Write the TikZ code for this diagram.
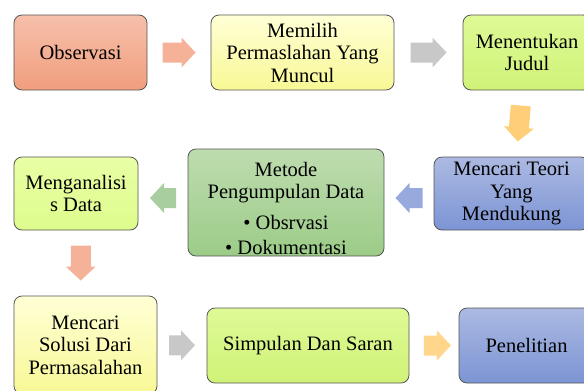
\documentclass[tikz,border=0pt]{standalone}
\usepackage{fontspec}
\setmainfont{Liberation Serif}
\usetikzlibrary{calc}
\definecolor{bordc}{RGB}{85,85,85}
\definecolor{salT}{RGB}{246,192,170}
\definecolor{salB}{RGB}{241,158,126}
\definecolor{yelT}{RGB}{255,255,214}
\definecolor{yelB}{RGB}{248,248,150}
\definecolor{grnT}{RGB}{222,250,150}
\definecolor{grnB}{RGB}{208,242,120}
\definecolor{bluT}{RGB}{172,186,226}
\definecolor{bluB}{RGB}{124,148,212}
\definecolor{dgrT}{RGB}{190,220,175}
\definecolor{dgrB}{RGB}{156,204,136}
\definecolor{lgrT}{RGB}{232,255,165}
\definecolor{lgrB}{RGB}{222,252,140}
\definecolor{aSal}{RGB}{245,178,152}
\definecolor{aGray}{RGB}{200,200,200}
\definecolor{aYel}{RGB}{255,206,120}
\definecolor{aBlu}{RGB}{150,170,222}
\definecolor{aGrn}{RGB}{168,206,160}
\definecolor{aOra}{RGB}{255,214,140}
\tikzset{
  box/.style={draw=bordc, line width=0.8bp, rounded corners=8bp, align=center,
    inner sep=2bp, font=\fontsize{20.5bp}{22.5bp}\selectfont},
  lbl/.style={font=\fontsize{20.5bp}{22.5bp}\selectfont, inner sep=0pt, anchor=base},
  pics/barrow/.style={code={
    \fill[pic actions] (-#1/2,-10) -- (#1/2-14,-10) -- (#1/2-14,-15) -- (#1/2,0)
      -- (#1/2-14,15) -- (#1/2-14,10) -- (-#1/2,10) -- cycle;}}
}
\begin{document}
\begin{tikzpicture}[x=1bp,y=-1bp]
\useasboundingbox (0,0) rectangle (584,390);
\clip (0,0) rectangle (584,390);
% boxes
\node[box, top color=salT, bottom color=salB, minimum width=133bp, minimum height=75bp] (A) at (80.5,52.5) {Observasi};
\node[box, top color=yelT, bottom color=yelB, minimum width=183bp, minimum height=75bp] (B) at (302.5,52.5) {Memilih\\Permaslahan Yang\\Muncul};
\node[box, top color=grnT, bottom color=grnB, minimum width=128bp, minimum height=75bp] (C) at (527,52.5) {Menentukan\\Judul};
\node[box, top color=bluT, bottom color=bluB, minimum width=155bp, minimum height=73bp] (D) at (511.5,193.5) {Mencari Teori\\Yang\\Mendukung};
\node[box, top color=dgrT, bottom color=dgrB, minimum width=196bp, minimum height=107bp] (E) at (286,202.5) {};
\node[lbl] (E1) at ($(E.north)+(0,28)$) {Metode};
\node[lbl] (E2) at ($(E.north)+(0,49.5)$) {Pengumpulan Data};
\node[lbl] (E3) at ($(E.north)+(0,81)$) {• Obsrvasi};
\node[lbl] (E4) at ($(E.north)+(0,106)$) {• Dokumentasi};
\node[box, top color=lgrT, bottom color=lgrB, minimum width=124bp, minimum height=73bp] (F) at (76,193.5) {Menganalisi\\s Data};
\node[box, top color=yelT, bottom color=yelB, minimum width=143bp, minimum height=98bp] (G) at (85.5,345) {Mencari\\Solusi Dari\\Permasalahan};
\node[box, top color=grnT, bottom color=grnB, minimum width=202bp, minimum height=75bp] (H) at (308,345.5) {Simpulan Dan Saran};
\node[box, top color=bluT, bottom color=bluB, minimum width=135bp, minimum height=75bp] (I) at (526.5,345.5) {Penelitian};
% block arrows
\pic[fill=aSal] at ($(A.east)!0.5!(B.west)$) {barrow=33};
\pic[fill=aGray] at ($(B.east)!0.5!(C.west)$) {barrow=36};
\pic[fill=aYel, rotate=-95] at ($(C.south)!0.5!(D.north)$) {barrow=36};
\pic[fill=aBlu, rotate=180] at ($(D.west)!0.5!(E.east)$) {barrow=27};
\pic[fill=aGrn, rotate=180] at ($(E.west)!0.5!(F.east)$) {barrow=26};
\pic[fill=aSal, rotate=-90] at ($(F.south)!0.5!(G.north)$) {barrow=35};
\pic[fill=aGray] at ($(G.east)!0.5!(H.west)$) {barrow=26};
\pic[fill=aOra] at ($(H.east)!0.57!(I.west)$) {barrow=27};
\end{tikzpicture}
\end{document}
